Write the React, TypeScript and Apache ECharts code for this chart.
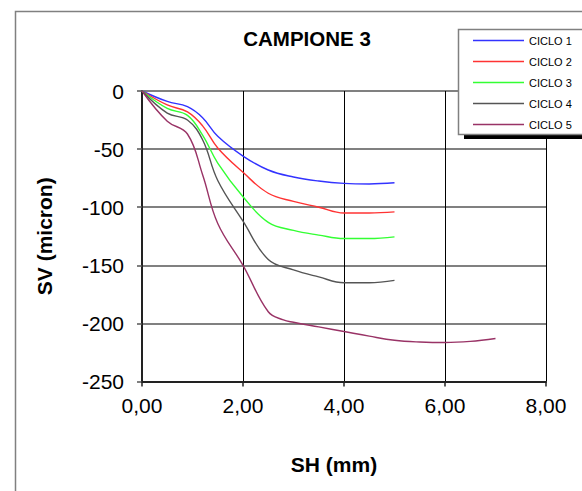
import React, { useEffect, useRef } from "react";
import * as echarts from "echarts";

const FONT = "'Liberation Sans', Arial, sans-serif";

const seriesNames = ["CICLO 1", "CICLO 2", "CICLO 3", "CICLO 4", "CICLO 5"];
const seriesColors = ["#3333ff", "#ff3333", "#33ff33", "#555555", "#993366"];

const xShort = [0, 0.5, 0.9, 1.2, 1.5, 2.0, 2.5, 3.0, 3.5, 4.0, 4.5, 5.0];
const ciclo1 = [0, -9, -13.5, -23, -39, -56, -68, -74, -77.5, -79.5, -80, -79];
const ciclo2 = [0, -12, -18, -30, -49, -70, -88, -95, -100, -105, -105, -104];
const ciclo3 = [0, -15, -21, -38, -62, -91, -113, -120, -124, -127, -127, -125.5];
const ciclo4 = [0, -19, -25, -42, -77, -112, -145, -154, -160, -165, -165, -163];

const xLong = [0, 0.5, 0.9, 1.2, 1.5, 2.0, 2.5, 2.8, 3.0, 3.5, 4.0, 4.5, 5.0, 5.5, 6.0, 6.5, 7.0];
const ciclo5 = [0, -26, -37, -72, -114, -150, -190, -197, -199, -203, -207, -211, -214.5, -216, -216.5, -215.5, -213];

const xTicks = { min: 0, max: 8, interval: 2 };
const yTicks = { min: -250, max: 0, interval: 50 };

const allY = [ciclo1, ciclo2, ciclo3, ciclo4, ciclo5];
const allX = [xShort, xShort, xShort, xShort, xLong];

export default function App() {
  const ref = useRef<HTMLDivElement>(null);
  useEffect(() => {
    if (!ref.current) return;
    const chart = echarts.init(ref.current, null, { renderer: "svg" });
    chart.setOption({
      animation: false,
      backgroundColor: "#ffffff",
      title: {
        text: "CAMPIONE 3",
        left: 307,
        top: 28,
        padding: 0,
        textAlign: "center",
        textStyle: { fontFamily: FONT, fontSize: 20.5, fontWeight: "bold", color: "#000" },
      },
      graphic: [
        {
          type: "rect",
          shape: { x: 15.5, y: 11.5, width: 620, height: 520 },
          style: { fill: "none", stroke: "#808080", lineWidth: 1.5 },
          z: 1,
        },
        {
          type: "rect",
          shape: { x: 464, y: 35, width: 130, height: 104 },
          style: { fill: "#000" },
          z: 3,
        },
        {
          type: "rect",
          shape: { x: 458.5, y: 29.5, width: 130, height: 105 },
          style: { fill: "#fff", stroke: "#808080", lineWidth: 1.5 },
          z: 3,
        },
      ],
      legend: {
        orient: "vertical",
        left: 473,
        top: 35,
        icon: "rect",
        itemWidth: 51,
        itemHeight: 1.5,
        itemGap: 10,
        padding: 0,
        z: 5,
        data: seriesNames,
        textStyle: { fontFamily: FONT, fontSize: 11, color: "#000" },
      },
      grid: { left: 142, right: 36, top: 91, bottom: 109.5, containLabel: false },
      xAxis: {
        type: "value",
        min: xTicks.min,
        max: xTicks.max,
        interval: xTicks.interval,
        name: "SH (mm)",
        nameLocation: "middle",
        nameGap: 72,
        nameTextStyle: {
          fontFamily: FONT,
          fontSize: 21,
          fontWeight: "bold",
          color: "#000",
          verticalAlign: "top",
          padding: [0, 20, 0, 0],
        },
        axisLine: { onZero: false, lineStyle: { color: "#222", width: 2 } },
        axisTick: { show: true, length: 5, lineStyle: { color: "#222", width: 1.5 } },
        axisLabel: {
          margin: 13,
          fontFamily: FONT,
          fontSize: 21,
          color: "#000",
          formatter: (v: number) => v.toFixed(2).replace(".", ","),
        },
        splitLine: { show: true, lineStyle: { color: "#000", width: 1 } },
      },
      yAxis: {
        type: "value",
        min: yTicks.min,
        max: yTicks.max,
        interval: yTicks.interval,
        name: "SV (micron)",
        nameLocation: "middle",
        nameGap: 87,
        nameRotate: 90,
        nameTextStyle: { fontFamily: FONT, fontSize: 21, fontWeight: "bold", color: "#000" },
        axisLine: { show: true, onZero: false, lineStyle: { color: "#222", width: 2 } },
        axisTick: { show: true, length: 5, lineStyle: { color: "#555", width: 1.5 } },
        axisLabel: { margin: 18, fontFamily: FONT, fontSize: 21, color: "#000" },
        splitLine: { show: true, lineStyle: { color: "#808080", width: 2 } },
      },
      series: seriesNames.map((name, i) => ({
        name,
        type: "line",
        smooth: 0.4,
        symbol: "none",
        showSymbol: false,
        color: seriesColors[i],
        lineStyle: { color: seriesColors[i], width: 1.4 },
        data: allX[i].map((x, j) => [x, allY[i][j]]),
        z: 2,
      })),
    });
    return () => chart.dispose();
  }, []);
  return (
    <div
      ref={ref}
      style={{ position: "fixed", left: 0, top: 0, width: 582, height: 491 }}
    />
  );
}
